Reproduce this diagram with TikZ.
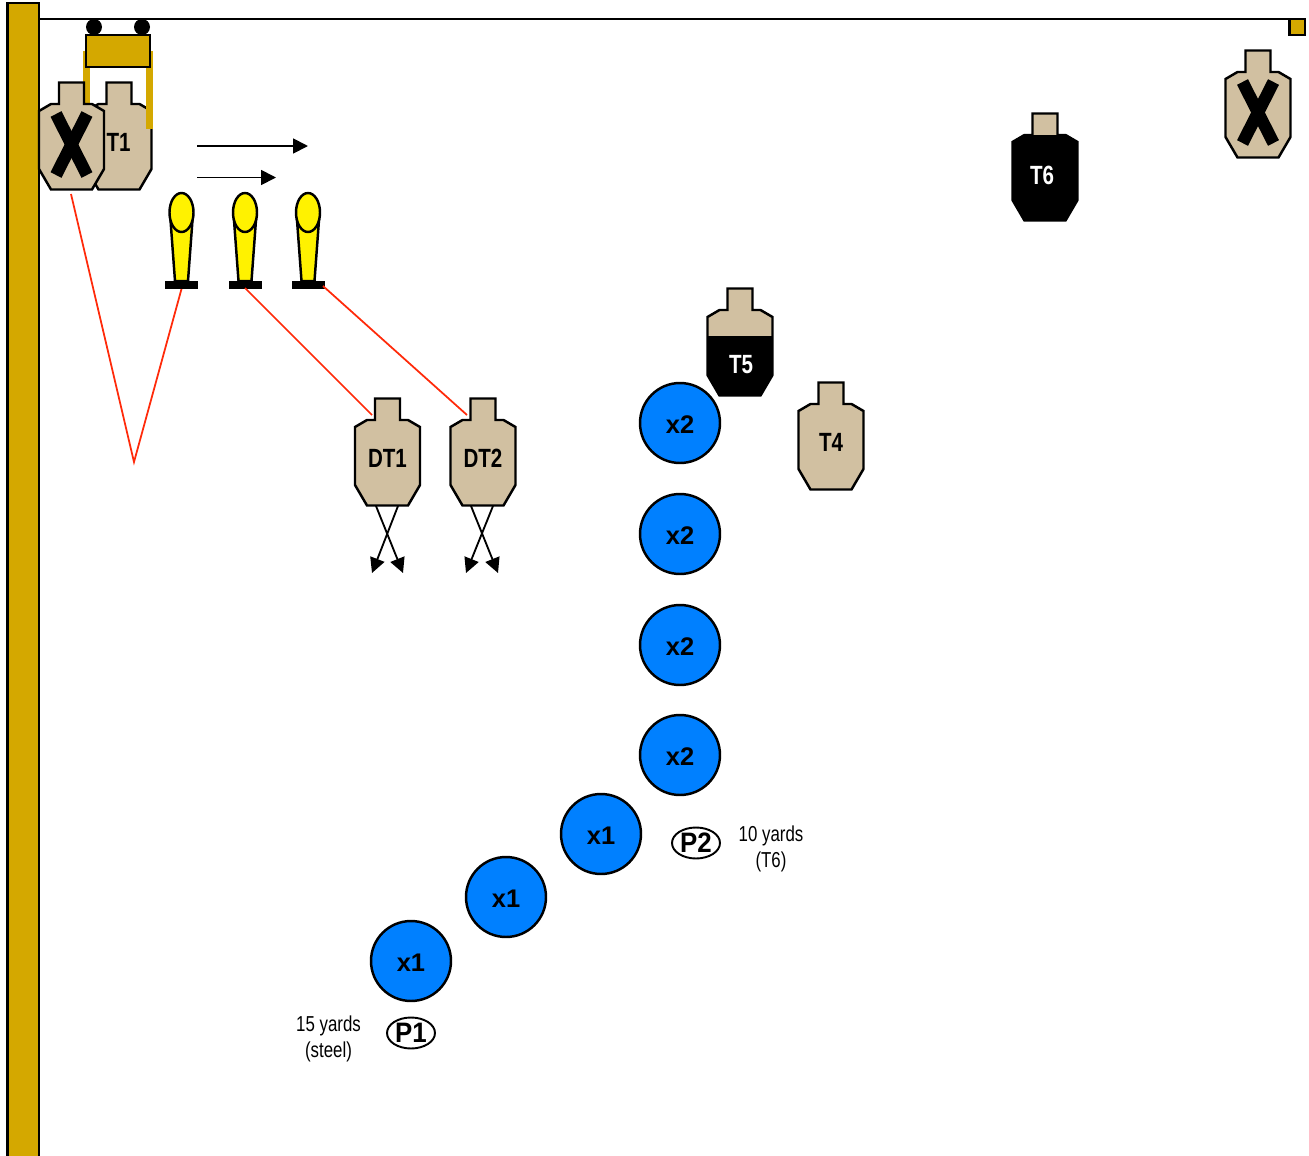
\documentclass[tikz,border=0pt]{standalone}
\usepackage{fontspec}
\setmainfont{Liberation Sans}
\newfontfamily\narrowfont[FakeStretch=0.78]{Liberation Sans}
\newfontfamily\slimfont[FakeStretch=0.92]{Liberation Sans}
\usepackage{xcolor}
\usetikzlibrary{arrows.meta}
\usetikzlibrary{shapes.geometric}
\definecolor{postgold}{HTML}{D4A800}
\definecolor{targettan}{HTML}{D1C0A1}
\definecolor{spotblue}{HTML}{0080FF}
\definecolor{shotred}{HTML}{FF2A0A}
\tikzset{
  edge/.style={line width=1.4pt},
  swing/.style={line width=1.05pt,-{Triangle[length=8.5pt,width=8.5pt]}},
  shot/.style={line width=1pt,draw=shotred},
  spot/.style={circle,draw,edge,fill=spotblue,minimum size=1.6cm,inner sep=0pt},
  spottext/.style={font=\fontsize{14.5}{14.5}\selectfont\bfseries,text height=12pt,text depth=0pt},
  box/.style={ellipse,draw,line width=1.1pt,fill=white,minimum width=0.96cm,minimum height=0.62cm,inner sep=0pt,font=\slimfont\fontsize{16}{16}\selectfont\bfseries},
  tag/.style={font=\narrowfont\fontsize{15}{15}\selectfont\bfseries},
  note/.style={align=center,font=\narrowfont\fontsize{12.3}{14.7}\selectfont},
  cross/.style={line width=7pt}
}
\newcommand{\targetoutline}[2]{(#1-12.5,#2+0.5)--++(25,0)--++(0,21.5)--++(8,0)--++(12,7)--++(0,58)--++(-12,20.5)--++(-41,0)--++(-12,-20.5)--++(0,-58)--++(12,-7)--++(8,0)--cycle}
\newcommand{\target}[2]{\draw[edge,fill=targettan] \targetoutline{#1}{#2};}
\newcommand{\blacktarget}[3]{
  \path[fill=targettan] \targetoutline{#1}{#2};
  \begin{scope}
    \clip (#1-40,#3) rectangle (#1+40,#2+120);
    \path[fill=black] \targetoutline{#1}{#2};
  \end{scope}
  \draw[edge] \targetoutline{#1}{#2};
}
\newcommand{\crossmark}[2]{
  \draw[cross] (#1-15.5,#2+32)--(#1+15.5,#2+93);
  \draw[cross] (#1+15.5,#2+32)--(#1-15.5,#2+93);
}
\newcommand{\popper}[1]{
  \draw[edge,fill=yellow] (#1-11,220)--(#1-6.5,281)--(#1+6.5,281)--(#1+11,220)--cycle;
  \draw[edge,fill=yellow] (#1,212.5) ellipse (12 and 19.5);
  \path[fill=black] (#1-16.5,281) rectangle (#1+16.5,289);
}

\begin{document}
\begin{tikzpicture}[x=0.02cm,y=-0.02cm]
  \useasboundingbox (0,0) rectangle (1309,1156);

  \draw[edge,fill=postgold] (7.5,3) rectangle (39,1165);
  \coordinate (wallend) at (39,19);
  \draw[edge,fill=postgold] (1289.5,19) rectangle (1305,35);
  \coordinate (stakeend) at (1289.5,19);
  \draw[edge] (wallend)--(stakeend);

  \path[fill=black] (94,27) circle (8);
  \path[fill=black] (142,27) circle (8);
  \path[fill=postgold] (83,51) rectangle (90,103);
  \target{119}{82}
  \path[fill=postgold] (146,51) rectangle (153,129);
  \draw[edge,fill=postgold] (86,35) rectangle (150,67);
  \target{71.5}{82}
  \crossmark{71.5}{82}
  \node[tag] (t1) at (118.5,142) {T1};

  \target{1258}{50}
  \crossmark{1258}{50}
  \blacktarget{1045}{113}{135}
  \node[tag,white] (t6) at (1042,175) {T6};
  \blacktarget{740}{288}{336}
  \node[tag,white] (t5) at (741,365) {T5};
  \target{831}{382}
  \node[tag] (t4) at (831,442) {T4};
  \target{387.5}{398}
  \node[tag] (dt1) at (387.5,458) {DT1};
  \target{483}{398}
  \node[tag] (dt2) at (483,458) {DT2};

  \popper{181.5}
  \popper{245}
  \popper{308}

  \coordinate (swinga) at (197,146);
  \coordinate (swingaend) at (308,146);
  \coordinate (swingb) at (197,177.5);
  \coordinate (swingbend) at (276,177.5);
  \draw[swing] (swinga)--(swingaend);
  \draw[swing] (swingb)--(swingbend);

  \coordinate (noshoot) at (71,194);
  \coordinate (corner) at (134,462);
  \coordinate (steela) at (181.5,289);
  \coordinate (steelb) at (245,288);
  \coordinate (steelc) at (323,286);
  \coordinate (dtone) at (372,415);
  \coordinate (dttwo) at (467,415);
  \draw[shot] (noshoot)--(corner)--(steela);
  \draw[shot] (steelb)--(dtone);
  \draw[shot] (steelc)--(dttwo);

  \coordinate (dtonel) at (376,506);
  \coordinate (dtoner) at (398,506);
  \coordinate (dttwol) at (471,506);
  \coordinate (dttwor) at (493,506);
  \coordinate (tipa) at (372,573);
  \coordinate (tipb) at (403,573);
  \coordinate (tipc) at (466,573);
  \coordinate (tipd) at (498,573);
  \draw[swing] (dtonel)--(tipb);
  \draw[swing] (dtoner)--(tipa);
  \draw[swing] (dttwol)--(tipd);
  \draw[swing] (dttwor)--(tipc);

  \node[spot,spottext] (xa) at (680,423) {x2};
  \node[spot,spottext] (xb) at (680,534) {x2};
  \node[spot,spottext] (xc) at (680,645) {x2};
  \node[spot,spottext] (xd) at (680,755) {x2};
  \node[spot,spottext] (xe) at (601,834) {x1};
  \node[spot,spottext] (xf) at (506,897) {x1};
  \node[spot,spottext] (xg) at (411,961) {x1};

  \node[box] (p1) at (411,1033) {P1};
  \node[box] (p2) at (696,843) {P2};
  \node[note] (far) at (328.5,1039) {15 yards\\(steel)};
  \node[note] (near) at (771,849) {10 yards\\(T6)};
\end{tikzpicture}
\end{document}
